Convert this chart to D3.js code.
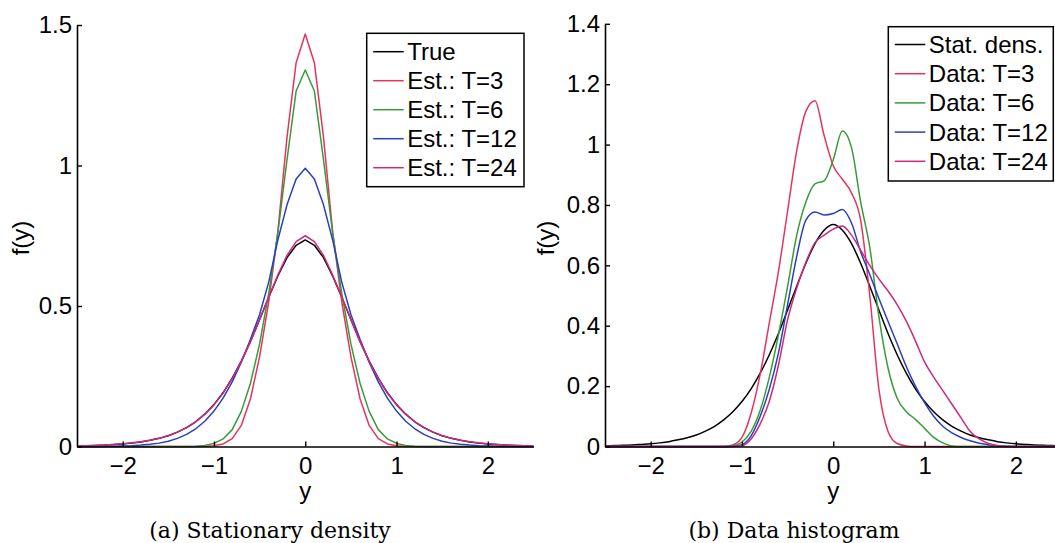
<!DOCTYPE html>
<html>
<head>
<meta charset="utf-8">
<script src="https://cdn.jsdelivr.net/npm/d3@7"></script>
<style>
  body { margin: 0; background: #fff; }
  svg { display: block; }
</style>
</head>
<body>
<svg id="fig" width="1055" height="543"></svg>
<script>
// Sample positions along y (shared by every curve)
const yGrid = [-2.5,-2.4,-2.3,-2.2,-2.1,-2.0,-1.9,-1.8,-1.7,-1.6,-1.5,-1.4,-1.3,-1.2,-1.1,-1.0,-0.9,-0.8,-0.7,-0.6,-0.5,-0.4,-0.3,-0.2,-0.1,
  0.0,0.1,0.2,0.3,0.4,0.5,0.6,0.7,0.8,0.9,1.0,1.1,1.2,1.3,1.4,1.5,1.6,1.7,1.8,1.9,2.0,2.1,2.2,2.3,2.4,2.5];

// True stationary density
const trueDensity = [0.002,0.003,0.004,0.005,0.007,0.009,0.012,0.016,0.022,0.029,0.038,0.051,0.067,0.088,0.115,0.149,0.191,0.243,0.304,0.374,0.452,0.531,0.607,0.672,0.716,
  0.735,0.716,0.672,0.607,0.531,0.452,0.374,0.304,0.243,0.191,0.149,0.115,0.088,0.067,0.051,0.038,0.029,0.022,0.016,0.012,0.009,0.007,0.005,0.004,0.003,0.002];

// Estimated stationary densities
const estT3 = [0,0,0,0,0,0,0,0,0,0,0,0,0,0,0.001,0.003,0.009,0.028,0.075,0.170,0.320,0.515,0.765,1.100,1.366,
  1.468,1.366,1.100,0.765,0.515,0.320,0.170,0.075,0.028,0.009,0.003,0.001,0,0,0,0,0,0,0,0,0,0,0,0,0,0];
const estT6 = [0,0,0,0,0,0,0,0,0,0,0,0,0,0.001,0.004,0.011,0.027,0.060,0.125,0.225,0.365,0.545,0.760,1.020,1.265,
  1.340,1.265,1.020,0.760,0.545,0.365,0.225,0.125,0.060,0.027,0.011,0.004,0.001,0,0,0,0,0,0,0,0,0,0,0,0,0];
const estT12 = [0,0,0,0.001,0.001,0.002,0.003,0.005,0.008,0.012,0.019,0.029,0.043,0.063,0.090,0.126,0.172,0.230,0.300,0.382,0.470,0.585,0.735,0.860,0.952,
  0.990,0.952,0.860,0.735,0.585,0.470,0.382,0.300,0.230,0.172,0.126,0.090,0.063,0.043,0.029,0.019,0.012,0.008,0.005,0.003,0.002,0.001,0.001,0,0,0];
const estT24 = [0.002,0.003,0.004,0.005,0.007,0.010,0.013,0.017,0.022,0.029,0.039,0.051,0.067,0.088,0.115,0.148,0.190,0.242,0.303,0.373,0.452,0.532,0.610,0.680,0.729,
  0.750,0.729,0.680,0.610,0.532,0.452,0.373,0.303,0.242,0.190,0.148,0.115,0.088,0.067,0.051,0.039,0.029,0.022,0.017,0.013,0.010,0.007,0.005,0.004,0.003,0.002];

// Smoothed data histograms
const dataT3 = [0,0,0,0,0,0,0,0,0,0,0,0,0,0,0.005,0.03,0.11,0.24,0.41,0.58,0.78,0.98,1.11,1.145,1.03,
  0.93,0.885,0.84,0.75,0.50,0.19,0.05,0.01,0.002,0,0,0,0,0,0,0,0,0,0,0,0,0,0,0,0,0];
const dataT6 = [0,0,0,0,0,0,0,0,0,0,0,0,0,0,0.002,0.015,0.05,0.12,0.23,0.37,0.53,0.70,0.81,0.87,0.88,
  0.95,1.045,0.99,0.81,0.66,0.43,0.26,0.16,0.115,0.09,0.06,0.03,0.012,0.002,0,0,0,0,0,0,0,0,0,0,0,0];
const dataT12 = [0,0,0,0,0,0,0,0,0,0,0,0,0,0,0.001,0.006,0.035,0.10,0.19,0.31,0.47,0.63,0.75,0.777,0.767,
  0.772,0.785,0.74,0.645,0.57,0.49,0.415,0.34,0.265,0.20,0.145,0.10,0.067,0.045,0.03,0.019,0.011,0.006,0.002,0.001,0,0,0,0,0,0];
const dataT24 = [0,0,0,0,0,0,0,0,0,0,0,0,0,0,0,0.003,0.025,0.075,0.15,0.27,0.42,0.525,0.61,0.675,0.70,
  0.72,0.73,0.70,0.65,0.60,0.555,0.515,0.47,0.415,0.35,0.28,0.23,0.185,0.14,0.095,0.05,0.025,0.01,0.003,0,0,0,0,0,0,0];

// Axis ticks
const xTickValues = [-2, -1, 0, 1, 2];
const xTickLabels = ["\u22122", "\u22121", "0", "1", "2"];
const leftYTicks = [0, 0.5, 1, 1.5];
const leftYLabels = ["0", "0.5", "1", "1.5"];
const rightYTicks = [0, 0.2, 0.4, 0.6, 0.8, 1, 1.2, 1.4];
const rightYLabels = ["0", "0.2", "0.4", "0.6", "0.8", "1", "1.2", "1.4"];

// Legend entries
const leftNames = ["True", "Est.: T=3", "Est.: T=6", "Est.: T=12", "Est.: T=24"];
const rightNames = ["Stat. dens.", "Data: T=3", "Data: T=6", "Data: T=12", "Data: T=24"];
const colors = ["#000000", "#e5335f", "#3a9a3a", "#2a3fc0", "#cc2a7c"];

const svg = d3.select("#fig");
const sans = "'Liberation Sans', Arial, sans-serif";
const serif = "'DejaVu Serif', serif";

function panel(opts) {
  const x = d3.scaleLinear().domain([-2.5, 2.5]).range(opts.xr);
  const y = d3.scaleLinear().domain([0, opts.ymax]).range(opts.yr);
  const g = svg.append("g");

  const clipId = "clip" + opts.id;
  svg.append("clipPath").attr("id", clipId)
    .append("rect")
    .attr("x", opts.xr[0]).attr("y", opts.yr[1] - 4)
    .attr("width", opts.xr[1] - opts.xr[0]).attr("height", opts.yr[0] - opts.yr[1] + 6);

  const line = d3.line()
    .x((d, i) => x(yGrid[i]))
    .y(d => y(d))
    .curve(opts.curve);

  const curves = g.append("g").attr("clip-path", `url(#${clipId})`);
  opts.series.forEach((s, k) => {
    curves.append("path")
      .datum(s)
      .attr("d", line)
      .attr("fill", "none")
      .attr("stroke", colors[k])
      .attr("stroke-width", 1.5)
      .attr("stroke-linejoin", "round");
  });

  // x axis, ticks pointing inward
  const xAxis = d3.axisBottom(x)
    .tickValues(xTickValues)
    .tickFormat((d, i) => xTickLabels[i])
    .tickSizeInner(-5).tickSizeOuter(0).tickPadding(10);
  const gx = g.append("g").attr("transform", `translate(0,${opts.yr[0]})`).call(xAxis);

  const yAxis = d3.axisLeft(y)
    .tickValues(opts.yTicks)
    .tickFormat((d, i) => opts.yLabels[i])
    .tickSizeInner(-5).tickSizeOuter(0).tickPadding(5);
  const gy = g.append("g").attr("transform", `translate(${opts.xr[0]},0)`).call(yAxis);

  [gx, gy].forEach(a => {
    a.select(".domain").attr("stroke", "#000").attr("stroke-width", 1.6);
    a.selectAll(".tick line").attr("stroke", "#000").attr("stroke-width", 1.4);
    a.selectAll(".tick text").attr("fill", "#000")
      .style("font-family", sans).style("font-size", "24px");
  });

  // axis titles
  g.append("text")
    .attr("x", x(0)).attr("y", 499)
    .attr("text-anchor", "middle")
    .style("font-family", sans).style("font-size", "24px")
    .text("y");
  g.append("text")
    .attr("transform", `translate(${opts.ylabX},238) rotate(-90)`)
    .attr("text-anchor", "middle")
    .style("font-family", sans).style("font-size", "24px")
    .text("f(y)");

  // legend
  const lg = g.append("g");
  const L = opts.legend;
  lg.append("rect")
    .attr("x", L.x).attr("y", L.y).attr("width", L.w).attr("height", L.h)
    .attr("fill", "#fff").attr("stroke", "#000").attr("stroke-width", 1.5);
  opts.names.forEach((name, k) => {
    const yy = L.first + k * L.step;
    lg.append("line")
      .attr("x1", L.x + 6.5).attr("x2", L.x + 37)
      .attr("y1", yy).attr("y2", yy)
      .attr("stroke", colors[k]).attr("stroke-width", 1.5);
    lg.append("text")
      .attr("x", L.x + 40.5).attr("y", yy)
      .attr("dy", "0.35em")
      .style("font-family", sans).style("font-size", "24px")
      .text(name);
  });

  // caption
  svg.append("text")
    .attr("x", opts.capX).attr("y", 538)
    .attr("text-anchor", "middle")
    .style("font-family", serif).style("font-size", "22px")
    .text(opts.caption);
}

panel({
  id: "a",
  xr: [77, 533.5], yr: [446.5, 25], ymax: 1.5,
  yTicks: leftYTicks, yLabels: leftYLabels,
  series: [trueDensity, estT3, estT6, estT12, estT24],
  names: leftNames,
  curve: d3.curveLinear,
  ylabX: 29,
  legend: { x: 366.7, y: 33.3, w: 157.3, h: 153.4, first: 51.7, step: 29 },
  capX: 270,
  caption: "(a) Stationary density"
});

panel({
  id: "b",
  xr: [605, 1061.5], yr: [446.5, 23.8], ymax: 1.4,
  yTicks: rightYTicks, yLabels: rightYLabels,
  series: [trueDensity, dataT3, dataT6, dataT12, dataT24],
  names: rightNames,
  curve: d3.curveMonotoneX,
  ylabX: 554,
  legend: { x: 888.3, y: 26.7, w: 165, h: 154.3, first: 44.5, step: 29.2 },
  capX: 794,
  caption: "(b) Data histogram"
});
</script>
</body>
</html>
